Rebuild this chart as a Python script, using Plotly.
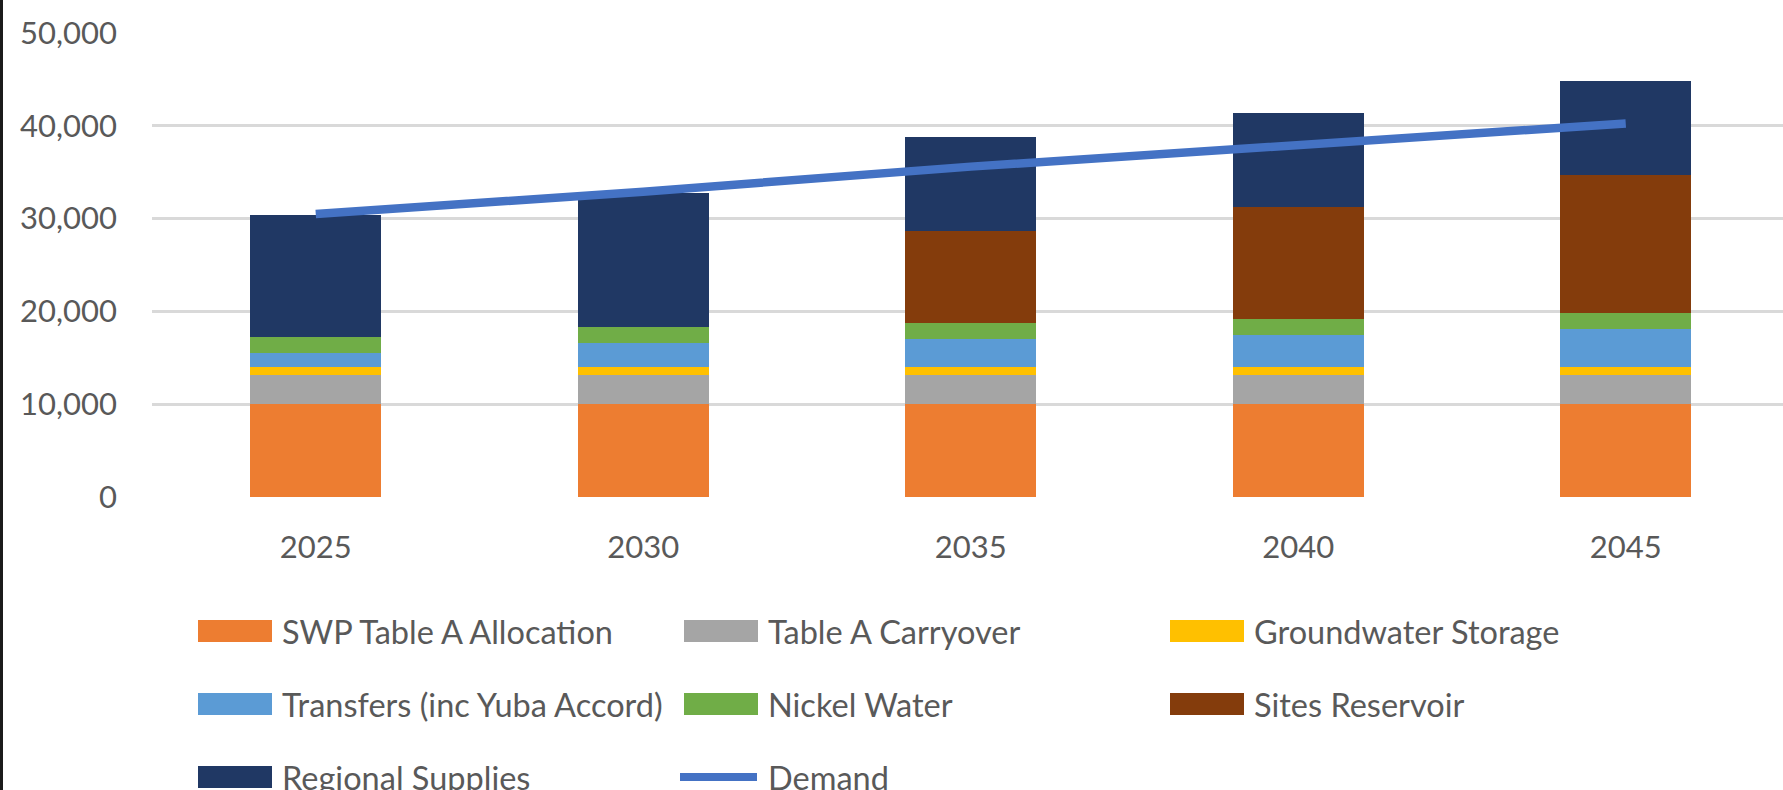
import plotly.graph_objects as go

years = ["2025", "2030", "2035", "2040", "2045"]
swp_table_a = [10000, 10000, 10000, 10000, 10000]
table_a_carryover = [3100, 3100, 3100, 3100, 3100]
groundwater_storage = [900, 900, 900, 900, 900]
transfers = [1500, 2600, 3000, 3450, 4100]
nickel_water = [1700, 1700, 1700, 1700, 1700]
sites_reservoir = [0, 0, 10000, 12100, 14900]
regional_supplies = [13200, 14500, 10100, 10100, 10100]
demand = [30500, 32900, 35600, 38000, 40250]

series = [
    ("SWP Table A Allocation", swp_table_a, "#ED7D31"),
    ("Table A Carryover", table_a_carryover, "#A5A5A5"),
    ("Groundwater Storage", groundwater_storage, "#FFC000"),
    ("Transfers (inc Yuba Accord)", transfers, "#5B9BD5"),
    ("Nickel Water", nickel_water, "#70AD47"),
    ("Sites Reservoir", sites_reservoir, "#843C0C"),
    ("Regional Supplies", regional_supplies, "#203864"),
]
demand_color = "#4472C4"
text_color = "#595959"
FONT = "Lato, 'Liberation Sans', Arial, sans-serif"

W, H = 1783, 790
L, R, T, B = 152, 0, 33, 293
PW, PH = W - L - R, H - T - B

fig = go.Figure()
for name, vals, col in series:
    fig.add_trace(go.Bar(x=years, y=vals, name=name, marker=dict(color=col, line=dict(width=0)),
                         showlegend=False))
fig.add_trace(go.Scatter(x=years, y=demand, name="Demand", mode="lines",
                         line=dict(color=demand_color, width=8.5), showlegend=False))

def px(x, y):
    return (x - L) / PW, (H - B - y) / PH

shapes = []
annotations = []
# left window border
x0, y0 = px(0, 0)
x1, y1 = px(3, H)
shapes.append(dict(type="rect", xref="paper", yref="paper", x0=x0, x1=x1, y0=y0, y1=y1,
                   fillcolor="#1b1b1b", line=dict(width=0), layer="above"))

legend_items = [(n, c, "bar") for n, _, c in series] + [("Demand", demand_color, "line")]
col_x = [198, 684, 1170]
row_y = [631, 704, 777]
for i, (name, col, kind) in enumerate(legend_items):
    cx = col_x[i % 3]
    cy = row_y[i // 3]
    if kind == "bar":
        ax0, ay0 = px(cx, cy - 11)
        ax1, ay1 = px(cx + 74, cy + 11)
        shapes.append(dict(type="rect", xref="paper", yref="paper", x0=ax0, x1=ax1, y0=ay0, y1=ay1,
                           fillcolor=col, line=dict(width=0)))
    else:
        ax0, ay0 = px(cx - 4, cy)
        ax1, ay1 = px(cx + 73, cy)
        shapes.append(dict(type="line", xref="paper", yref="paper", x0=ax0, x1=ax1, y0=ay0, y1=ay1,
                           line=dict(color=col, width=8)))
    tx, ty = px(cx + 82, cy)
    annotations.append(dict(xref="paper", yref="paper", x=tx, y=ty, text=name, showarrow=False,
                            xanchor="left", yanchor="middle",
                            font=dict(family=FONT, size=32.5, color=text_color)))

fig.update_layout(
    width=W, height=H,
    margin=dict(l=L, r=R, t=T, b=B, pad=0),
    barmode="stack",
    bargap=0.6,
    plot_bgcolor="white",
    paper_bgcolor="white",
    font=dict(family=FONT, size=31, color=text_color),
    shapes=shapes,
    annotations=annotations,
    showlegend=False,
)
fig.update_xaxes(type="category", range=[-0.5, -0.5 + PW / 327.5], showgrid=False, showline=False,
                 zeroline=False, ticks="", ticklabelstandoff=29,
                 tickfont=dict(family=FONT, size=31, color=text_color))
fig.update_yaxes(range=[0, 50000], dtick=10000, tickformat=",", showgrid=True, gridcolor="#D9D9D9",
                 gridwidth=2.5, zeroline=False, showline=False, ticks="", ticklabelstandoff=34,
                 tickfont=dict(family=FONT, size=31, color=text_color))

fig.write_html("out.html", config={"displayModeBar": False},
               post_script="document.body.style.margin='0';document.body.style.overflow='hidden';")
